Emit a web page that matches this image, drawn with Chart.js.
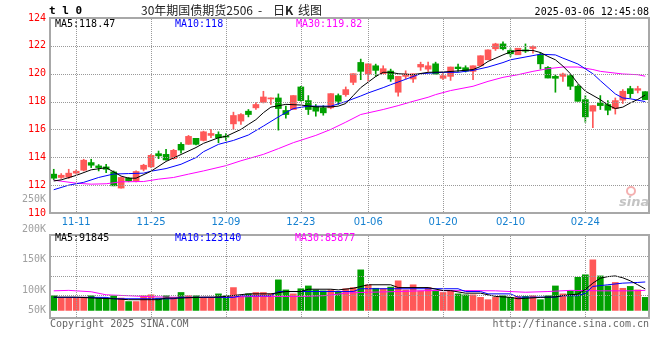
<!DOCTYPE html>
<html>
<head>
<meta charset="utf-8">
<script src="https://cdn.jsdelivr.net/npm/chart.js@4.4.1/dist/chart.umd.min.js"></script>
<style>
  html, body { margin: 0; padding: 0; background: #fff; }
  #wrap { position: relative; width: 660px; height: 360px; overflow: hidden;
          font-family: "DejaVu Sans Mono", monospace; font-size: 10px; line-height: 10px; }
  #wrap canvas { position: absolute; left: 0; top: 0; }
  .t { position: absolute; white-space: pre; }
  .cjk { font-family: "Noto Sans CJK SC", sans-serif; font-size: 12px; line-height: 12px; color: #222; }
</style>
</head>
<body>
<div id="wrap">
  <canvas id="kline" width="660" height="360"></canvas>
  <canvas id="vol" width="660" height="360"></canvas>

  <div class="t" style="left:49px;top:5px;font-size:11px;line-height:12px;font-weight:bold;color:#000">t l 0</div>
  <div class="t cjk" style="left:141px;top:4px">30年期国债期货2506</div>
  <div class="t cjk" style="left:258px;top:4px">-</div>
  <div class="t cjk" style="left:273px;top:4px">日<b>K</b></div>
  <div class="t cjk" style="left:298px;top:4px">线图</div>
  <div class="t" style="right:11px;top:7px;color:#000">2025-03-06 12:45:08</div>

  <div class="t" style="left:55px;top:19px;color:#000">MA5:118.47</div>
  <div class="t" style="left:175px;top:19px;color:#0000ff">MA10:118</div>
  <div class="t" style="left:296px;top:19px;color:#ff00ff">MA30:119.82</div>

  <div class="t" style="left:55px;top:233px;color:#000">MA5:91845</div>
  <div class="t" style="left:175px;top:233px;color:#0000ff">MA10:123140</div>
  <div class="t" style="left:295px;top:233px;color:#ff00ff">MA30:85877</div>

  <div class="t" style="left:626px;top:186px;width:6px;height:6px;border:2px solid #f4b0b0;border-radius:50%"></div>
  <div class="t" style="left:619px;top:195px;font-family:'DejaVu Sans',sans-serif;font-size:13px;line-height:13px;font-style:italic;font-weight:bold;color:#c4c4c4">sina</div>

  <div class="t" style="left:50px;top:319px;color:#666">Copyright 2025 SINA.COM</div>
  <div class="t" style="right:11px;top:319px;color:#666">http://finance.sina.com.cn</div>
</div>

<script>
const dates = [
  "11-06","11-07","11-08","11-11","11-12","11-13","11-14","11-15","11-18","11-19",
  "11-20","11-21","11-22","11-25","11-26","11-27","11-28","11-29","12-02","12-03",
  "12-04","12-05","12-06","12-09","12-10","12-11","12-12","12-13","12-16","12-17",
  "12-18","12-19","12-20","12-23","12-24","12-25","12-26","12-27","12-30","12-31",
  "01-02","01-03","01-06","01-07","01-08","01-09","01-10","01-13","01-14","01-15",
  "01-16","01-17","01-20","01-21","01-22","01-23","01-24","01-27","02-05","02-06",
  "02-07","02-10","02-11","02-12","02-13","02-14","02-17","02-18","02-19","02-20",
  "02-21","02-24","02-25","02-26","02-27","02-28","03-03","03-04","03-05","03-06"
];
const tickDates = ["11-11", "11-25", "12-09", "12-23", "01-06", "01-20", "02-10", "02-24"];

const opens = [
  112.79,112.55,112.57,112.86,113.07,113.62,113.38,113.31,112.95,111.79,
  112.50,112.29,113.14,113.31,114.26,114.21,113.90,114.93,114.93,115.36,
  115.21,115.57,115.64,115.52,116.40,116.60,117.31,117.55,117.95,118.19,
  118.26,117.36,117.43,119.05,118.07,117.62,117.55,117.55,118.43,118.50,
  119.38,120.81,119.98,120.57,120.00,120.19,118.67,119.81,119.62,120.48,
  120.33,120.71,119.67,119.81,120.48,120.43,120.17,120.57,121.00,121.79,
  122.14,121.67,121.36,121.71,121.81,121.36,120.45,119.81,119.81,119.86,
  119.10,118.14,117.31,117.90,117.79,117.50,118.10,118.93,118.81,118.71
];
const highs = [
  113.14,112.83,113.14,113.10,113.86,113.86,113.48,113.50,113.02,112.60,
  112.55,113.02,113.50,114.21,114.45,114.57,114.57,115.05,115.57,115.36,
  115.88,116.00,115.83,115.70,117.24,117.14,117.43,117.95,118.74,118.26,
  118.55,117.67,118.43,119.10,118.43,117.79,117.71,118.57,118.55,119.05,
  120.00,121.05,120.71,120.69,120.57,120.33,119.81,120.21,120.00,120.83,
  120.83,120.83,120.05,120.48,120.69,120.57,120.57,121.29,121.71,122.19,
  122.29,121.79,121.83,122.14,122.00,121.52,120.52,119.93,120.05,119.93,
  119.21,118.43,117.71,118.43,118.07,118.26,118.86,119.10,119.10,118.71
];
const lows = [
  112.38,112.48,112.48,112.79,113.02,113.26,113.02,112.90,111.95,111.79,
  112.24,112.24,113.02,113.26,113.90,113.79,113.86,114.29,114.93,114.88,
  115.17,115.40,115.05,115.21,116.00,116.36,116.90,117.43,117.90,117.79,
  115.95,116.81,117.43,118.02,117.07,116.95,117.02,117.48,117.79,118.38,
  119.21,119.57,119.45,119.81,120.00,119.45,118.38,119.62,119.38,120.24,
  120.17,119.93,119.57,119.52,120.17,120.12,119.57,120.57,121.00,121.67,
  121.71,121.24,121.36,121.52,121.48,120.33,119.69,118.67,119.45,118.86,
  118.02,116.52,116.12,117.43,117.05,117.10,117.86,118.26,118.62,118.14
];
const closes = [
  112.50,112.71,112.86,113.00,113.79,113.43,113.26,113.14,111.95,112.55,
  112.31,112.98,113.43,114.14,114.10,113.81,114.50,114.52,115.50,114.93,
  115.83,115.71,115.40,115.45,117.00,117.07,117.07,117.79,118.33,118.24,
  117.50,117.07,118.43,118.07,117.43,117.31,117.19,118.57,118.02,118.86,
  120.00,120.17,120.71,120.24,120.36,119.62,119.81,119.98,120.00,120.67,
  120.57,119.98,119.86,120.48,120.36,120.19,120.57,121.29,121.71,122.14,
  121.79,121.43,121.83,121.62,121.95,120.71,119.69,119.67,119.98,119.10,
  118.02,116.90,117.71,117.71,117.38,118.07,118.74,118.57,118.93,118.14
];
const volumes = [
  63000,53000,53000,53000,57000,63000,53000,53000,63000,53000,
  38000,38000,63000,67000,53000,63000,53000,77000,63000,63000,
  53000,53000,71000,63000,98000,63000,71000,77000,77000,71000,
  131000,88000,71000,93000,105000,88000,84000,88000,81000,93000,
  98000,174000,110000,95000,93000,100000,127000,88000,110000,84000,
  98000,85000,77000,84000,71000,67000,67000,56000,46000,56000,
  63000,56000,60000,60000,63000,46000,63000,105000,71000,84000,
  142000,153000,217000,148000,105000,120000,95000,103000,88000,56000
];

// moving averages: [day index, value]
const ma5Pts = [
  [0,112.30],[1,112.38],[3,112.70],[5,113.10],[7,113.25],[8,112.95],[9,112.65],[10,112.50],
  [11,112.50],[13,113.00],[15,113.70],[17,114.20],[19,114.70],[20,115.00],[22,115.40],[23,115.50],
  [25,116.00],[26,116.36],[27,116.70],[28,117.20],[29,117.60],[31,117.80],[33,117.75],[35,117.62],
  [37,117.62],[38,117.67],[39,117.86],[40,118.43],[41,119.00],[43,119.80],[44,120.10],[45,120.10],
  [46,120.00],[48,119.93],[50,120.10],[52,120.12],[54,120.20],[56,120.30],[57,120.52],[58,120.88],
  [60,121.35],[61,121.57],[62,121.67],[64,121.67],[65,121.52],[66,121.24],[67,121.00],[68,120.55],
  [69,120.00],[70,119.30],[71,118.75],[73,118.14],[74,117.75],[75,117.50],[76,117.60],[77,117.90],
  [78,118.15],[79,118.47]
];
const ma10Pts = [
  [0,111.67],[2,112.00],[4,112.20],[6,112.55],[8,112.80],[10,112.83],[12,112.86],[13,113.00],
  [15,113.19],[17,113.50],[19,113.98],[20,114.40],[22,114.93],[24,115.21],[26,115.60],[28,116.24],
  [30,116.90],[32,117.50],[34,117.67],[37,117.67],[39,118.00],[41,118.40],[42,118.62],[44,119.00],
  [45,119.21],[47,119.60],[49,120.00],[52,120.10],[54,120.10],[56,120.24],[58,120.48],[60,120.80],
  [61,121.00],[64,121.30],[65,121.40],[67,121.35],[68,121.12],[70,120.70],[72,120.00],[73,119.50],
  [75,118.55],[76,118.26],[77,118.20],[79,118.00]
];
const ma30Pts = [
  [0,112.36],[3,112.14],[5,112.07],[7,112.10],[9,112.24],[12,112.26],[14,112.43],[16,112.55],
  [18,112.79],[20,113.02],[23,113.40],[25,113.75],[28,114.21],[30,114.62],[32,115.05],[35,115.57],
  [37,116.00],[39,116.52],[41,117.07],[44,117.43],[46,117.71],[48,118.02],[50,118.31],[51,118.50],
  [53,118.79],[56,119.10],[58,119.45],[60,119.74],[62,119.93],[64,120.17],[66,120.36],[68,120.48],
  [70,120.48],[72,120.30],[73,120.17],[76,119.98],[78,119.93],[79,119.82]
];
const volMa5Pts = [
  [0,57000],[3,57000],[6,52000],[8,50000],[10,46000],[14,46000],[15,53000],[17,53000],
  [20,57000],[22,57000],[26,71000],[29,71000],[31,81000],[33,81000],[34,91000],[37,91000],
  [38,88000],[40,95000],[42,110000],[45,110000],[46,98000],[50,98000],[52,85000],[53,85000],
  [55,74000],[57,74000],[59,60000],[61,56000],[62,50000],[63,52000],[65,56000],[67,58000],
  [68,64000],[70,70000],[71,90000],[72,117000],[73,138000],[74,145000],[75,148000],[76,140000],
  [77,127000],[78,110000],[79,92000]
];
const volMa10Pts = [
  [0,56000],[7,56000],[8,50000],[16,50000],[17,56000],[24,56000],[25,63000],[29,63000],
  [30,81000],[40,81000],[41,93000],[54,93000],[55,81000],[57,81000],[58,71000],[61,71000],
  [62,57000],[67,57000],[68,63000],[70,63000],[71,74000],[72,103000],[74,110000],[76,117000],
  [78,120000],[79,122000]
];
const volMa30Pts = [
  [0,84000],[2,86000],[5,80000],[7,67000],[10,63000],[12,60000],[15,57000],[18,56000],
  [22,56000],[24,57000],[27,60000],[33,60000],[36,63000],[37,66000],[39,74000],[41,77000],
  [46,81000],[50,85000],[56,85000],[59,84000],[63,78000],[66,81000],[69,86000],[73,84000],
  [77,84000],[79,86000]
];

const priceTicks = [110, 112, 114, 116, 118, 120, 122, 124];
const priceOddTick = 111;          // sina prints a stray "250K" here
const priceOddLabel = "250K";
const volTickValues = [0, 85500, 216700, 323500];
const volTickLabels = ["50K", "100K", "150K", "200K"];
const volGridValues = [64100, 149600, 235000];

const UP = "#ff5858";
const DOWN = "#00a000";
const GRID = "#999999";
const MONO = { family: "DejaVu Sans Mono", size: 10 };
const NO_GRID = { display: false, drawTicks: false };

const isUp = (i) => closes[i] >= opens[i];
const pts = (list) => list.map(([i, v]) => ({ x: dates[i], y: v }));

// panel border
const frame = {
  id: "frame",
  afterDraw(chart) {
    const { ctx, chartArea: a } = chart;
    ctx.save();
    ctx.strokeStyle = "#a8a8a8";
    ctx.lineWidth = 2;
    ctx.strokeRect(a.left, a.top, a.right - a.left, a.bottom - a.top);
    ctx.restore();
  },
};

// dotted grid (1px on / 1px off) at the labelled dates and the given y values
const dotGrid = {
  id: "dotGrid",
  afterDatasetsDraw(chart, args, opts) {
    const { ctx, chartArea: a, scales } = chart;
    const left = Math.ceil(a.left), right = Math.floor(a.right);
    const top = Math.ceil(a.top), bottom = Math.floor(a.bottom);
    ctx.save();
    ctx.globalCompositeOperation = "source-over";
    ctx.globalAlpha = 1;
    ctx.fillStyle = GRID;
    tickDates.forEach((d) => {
      const x = Math.round(scales.x.getPixelForValue(dates.indexOf(d)));
      for (let y = top + 1; y < bottom; y += 2) ctx.fillRect(x, y, 1, 1);
    });
    (opts.values || []).forEach((v) => {
      const y = Math.round(scales.y.getPixelForValue(v));
      for (let x = left + 1; x < right; x += 2) ctx.fillRect(x, y, 1, 1);
    });
    ctx.restore();
  },
};

function maLine(list, color) {
  return { type: "line", data: pts(list), borderColor: color, borderWidth: 1,
           pointRadius: 0, tension: 0, order: 0 };
}

new Chart(document.getElementById("kline"), {
  type: "bar",
  data: {
    labels: dates,
    datasets: [
      { type: "bar", data: dates.map((d, i) => [lows[i], highs[i]]),
        backgroundColor: (c) => (isUp(c.dataIndex) ? UP : DOWN),
        barThickness: 1, grouped: false, order: 2 },
      { type: "bar", data: dates.map((d, i) => [opens[i], closes[i]]),
        backgroundColor: (c) => (isUp(c.dataIndex) ? UP : DOWN),
        barThickness: 6, minBarLength: 1, grouped: false, order: 1 },
      maLine(ma5Pts, "#000000"),
      maLine(ma10Pts, "#0000ff"),
      maLine(ma30Pts, "#ff00ff"),
    ],
  },
  options: {
    responsive: false,
    animation: false,
    events: [],
    layout: { padding: { left: 0, right: 11, top: 18, bottom: 128 } },
    plugins: {
      legend: { display: false },
      tooltip: { enabled: false },
      dotGrid: { values: priceTicks },
    },
    scales: {
      x: {
        offset: true,
        afterFit: (s) => { s.height = 19; },
        grid: NO_GRID,
        border: { display: false },
        ticks: {
          autoSkip: false, maxRotation: 0, minRotation: 0, padding: 3,
          color: "#1580d0", font: { family: "DejaVu Sans", size: 10 },
          callback: function (v) {
            const d = this.getLabelForValue(v);
            return tickDates.includes(d) ? d : "";
          },
        },
      },
      y: {
        min: 110, max: 124,
        afterBuildTicks: (s) => {
          s.ticks = priceTicks.concat([priceOddTick]).sort((a, b) => a - b).map((v) => ({ value: v }));
        },
        afterFit: (s) => { s.width = 50; },
        grid: NO_GRID,
        border: { display: false },
        ticks: {
          autoSkip: false, padding: 4, font: MONO,
          color: (c) => (c.tick && c.tick.value === priceOddTick ? "#a0a0a0" : "#ff0000"),
          callback: (v) => (v === priceOddTick ? priceOddLabel : String(v)),
        },
      },
    },
  },
  plugins: [dotGrid, frame],
});

new Chart(document.getElementById("vol"), {
  type: "bar",
  data: {
    labels: dates,
    datasets: [
      { type: "bar", data: volumes,
        backgroundColor: (c) => (isUp(c.dataIndex) ? UP : DOWN),
        barThickness: 6, order: 1 },
      maLine(volMa5Pts, "#000000"),
      maLine(volMa10Pts, "#0000ff"),
      maLine(volMa30Pts, "#ff00ff"),
    ],
  },
  options: {
    responsive: false,
    animation: false,
    events: [],
    layout: { padding: { left: 0, right: 11, top: 235, bottom: 42 } },
    plugins: {
      legend: { display: false },
      tooltip: { enabled: false },
      dotGrid: { values: volGridValues },
    },
    scales: {
      x: {
        offset: true,
        afterFit: (s) => { s.height = 0; },
        grid: NO_GRID,
        border: { display: false },
        ticks: { display: false },
      },
      y: {
        min: -32500, max: 323500,
        afterBuildTicks: (s) => { s.ticks = volTickValues.map((v) => ({ value: v })); },
        afterFit: (s) => { s.width = 50; },
        grid: NO_GRID,
        border: { display: false },
        ticks: {
          autoSkip: false, padding: 4, font: MONO, color: "#a0a0a0",
          callback: (v) => {
            const k = volTickValues.indexOf(v);
            // top label sits just above the panel, as in the sina image
            return k === volTickValues.length - 1 ? [volTickLabels[k], ""] : volTickLabels[k];
          },
        },
      },
    },
  },
  plugins: [dotGrid, frame],
});
</script>
</body>
</html>
